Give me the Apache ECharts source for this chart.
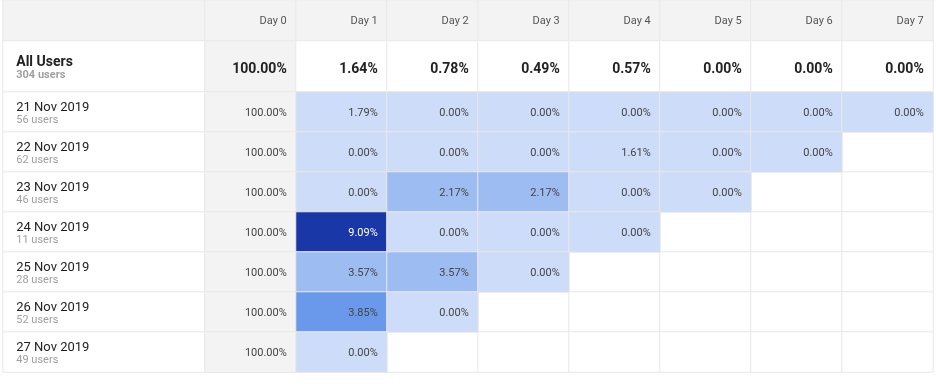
<!DOCTYPE html>
<html>
<head>
<meta charset="utf-8">
<script src="https://cdn.jsdelivr.net/npm/echarts@6/dist/echarts.min.js"></script>
<style>
html,body{margin:0;padding:0;background:#fff;}
#chart{width:936px;height:386px;}
</style>
</head>
<body>
<div id="chart"></div>
<script>
// ---- data ----
const days = ['Day 0', 'Day 1', 'Day 2', 'Day 3', 'Day 4', 'Day 5', 'Day 6', 'Day 7'];
const cohorts = ['21 Nov 2019', '22 Nov 2019', '23 Nov 2019', '24 Nov 2019', '25 Nov 2019', '26 Nov 2019', '27 Nov 2019'];
const cohortUsers = [56, 62, 46, 11, 28, 52, 49];
const allUsersLabel = 'All Users';
const allUsersCount = 304;
const allUsersRetention = [100, 1.64, 0.78, 0.49, 0.57, 0.00, 0.00, 0.00];
const nov21 = [100, 1.79, 0.00, 0.00, 0.00, 0.00, 0.00, 0.00];
const nov22 = [100, 0.00, 0.00, 0.00, 1.61, 0.00, 0.00];
const nov23 = [100, 0.00, 2.17, 2.17, 0.00, 0.00];
const nov24 = [100, 9.09, 0.00, 0.00, 0.00];
const nov25 = [100, 3.57, 3.57, 0.00];
const nov26 = [100, 3.85, 0.00];
const nov27 = [100, 0.00];
const cohortRetention = [nov21, nov22, nov23, nov24, nov25, nov26, nov27];

// ---- styles ----
const FONT = 'Roboto';
const BORDER = '#ebe7e7';
const GRAY = '#f3f3f3';
function cellColor(v) {
  if (v >= 6) return '#1a37a7';
  if (v >= 3.7) return '#6a99ec';
  if (v >= 2) return '#9dbcf1';
  return '#cddcf8';
}
const fmt = v => v.toFixed(2) + '%';

const cellItem = { borderColor: BORDER, borderWidth: 1 };

const headerDays = days.map((d, i) => ({ value: [i, 0, i], itemStyle: { color: GRAY } }));
const allDays = allUsersRetention.map((v, i) => ({ value: [i, 0, v], itemStyle: { color: i === 0 ? GRAY : '#fff' } }));
const bgCells = [];
cohorts.forEach((c, r) => days.forEach((d, i) => bgCells.push({ value: [i, r, 0], itemStyle: { color: '#fff' } })));
const cohortCells = [];
cohortRetention.forEach((row, r) => row.forEach((v, i) => {
  cohortCells.push({
    value: [i, r, v],
    itemStyle: { color: i === 0 ? GRAY : cellColor(v) },
    label: { color: (i > 0 && v >= 6) ? '#ffffff' : '#444444' }
  });
}));
const cohortLabelCells = cohorts.map((c, r) => ({ value: [0, r, r], itemStyle: { color: '#fff' } }));

const grids = [
  { left: 3, top: 0, width: 202, height: 41 },
  { left: 205, top: 0, width: 728, height: 41 },
  { left: 3, top: 41, width: 202, height: 51 },
  { left: 205, top: 41, width: 728, height: 51 },
  { left: 3, top: 92, width: 202, height: 280 },
  { left: 205, top: 92, width: 728, height: 280 }
];
const hid = { show: false };
const xAxes = [
  { type: 'category', gridIndex: 0, data: ['label'], ...hid },
  { type: 'category', gridIndex: 1, data: days, ...hid },
  { type: 'category', gridIndex: 2, data: ['label'], ...hid },
  { type: 'category', gridIndex: 3, data: days, ...hid },
  { type: 'category', gridIndex: 4, data: ['label'], ...hid },
  { type: 'category', gridIndex: 5, data: days, ...hid }
];
const yAxes = [
  { type: 'category', gridIndex: 0, data: ['header'], ...hid },
  { type: 'category', gridIndex: 1, data: ['header'], ...hid },
  { type: 'category', gridIndex: 2, data: ['all'], ...hid },
  { type: 'category', gridIndex: 3, data: ['all'], ...hid },
  { type: 'category', gridIndex: 4, data: cohorts, inverse: true, ...hid },
  { type: 'category', gridIndex: 5, data: cohorts, inverse: true, ...hid }
];

const base = { type: 'heatmap', emphasis: { disabled: true }, silent: true, itemStyle: cellItem, animation: false };

const option = {
  animation: false,
  grid: grids,
  xAxis: xAxes,
  yAxis: yAxes,
  series: [
    { ...base, xAxisIndex: 0, yAxisIndex: 0, data: [{ value: [0, 0, 0], itemStyle: { color: GRAY } }], label: { show: false } },
    { ...base, xAxisIndex: 1, yAxisIndex: 1, data: headerDays,
      label: { show: true, position: 'insideRight', distance: 10, offset: [0, 1], fontFamily: FONT, fontSize: 11, color: '#555',
        formatter: p => days[p.value[0]] } },
    { ...base, xAxisIndex: 2, yAxisIndex: 2, data: [{ value: [0, 0, allUsersCount], itemStyle: { color: '#fff' } }],
      label: { show: true, position: 'insideLeft', distance: 14, offset: [0, 2], fontFamily: FONT,
        formatter: () => '{a|' + allUsersLabel + '}\n{b|' + allUsersCount + ' users}',
        rich: {
          a: { fontFamily: FONT, fontSize: 14, fontWeight: 'bold', color: '#222', lineHeight: 13 },
          b: { fontFamily: FONT, fontSize: 11, fontWeight: 'bold', color: '#a0a0a0', lineHeight: 13 }
        } } },
    { ...base, xAxisIndex: 3, yAxisIndex: 3, data: allDays,
      label: { show: true, position: 'insideRight', distance: 10, offset: [0, 2.5], fontFamily: FONT, fontSize: 14, fontWeight: 'bold', color: '#222',
        formatter: p => fmt(p.value[2]) } },
    { ...base, xAxisIndex: 4, yAxisIndex: 4, data: cohortLabelCells,
      label: { show: true, position: 'insideLeft', distance: 14, offset: [0, 2], fontFamily: FONT,
        formatter: p => '{a|' + cohorts[p.value[1]] + '}\n{b|' + cohortUsers[p.value[1]] + ' users}',
        rich: {
          a: { fontFamily: FONT, fontSize: 13, color: '#222', lineHeight: 13 },
          b: { fontFamily: FONT, fontSize: 11, color: '#a0a0a0', lineHeight: 13 }
        } } },
    { ...base, xAxisIndex: 5, yAxisIndex: 5, data: bgCells, label: { show: false } },
    { ...base, xAxisIndex: 5, yAxisIndex: 5, data: cohortCells,
      label: { show: true, position: 'insideRight', distance: 10, offset: [0, 1], fontFamily: FONT, fontSize: 11,
        formatter: p => fmt(p.value[2]) } }
  ]
};

const chart = echarts.init(document.getElementById('chart'), null, { renderer: 'canvas' });
chart.setOption(option);
</script>
</body>
</html>
